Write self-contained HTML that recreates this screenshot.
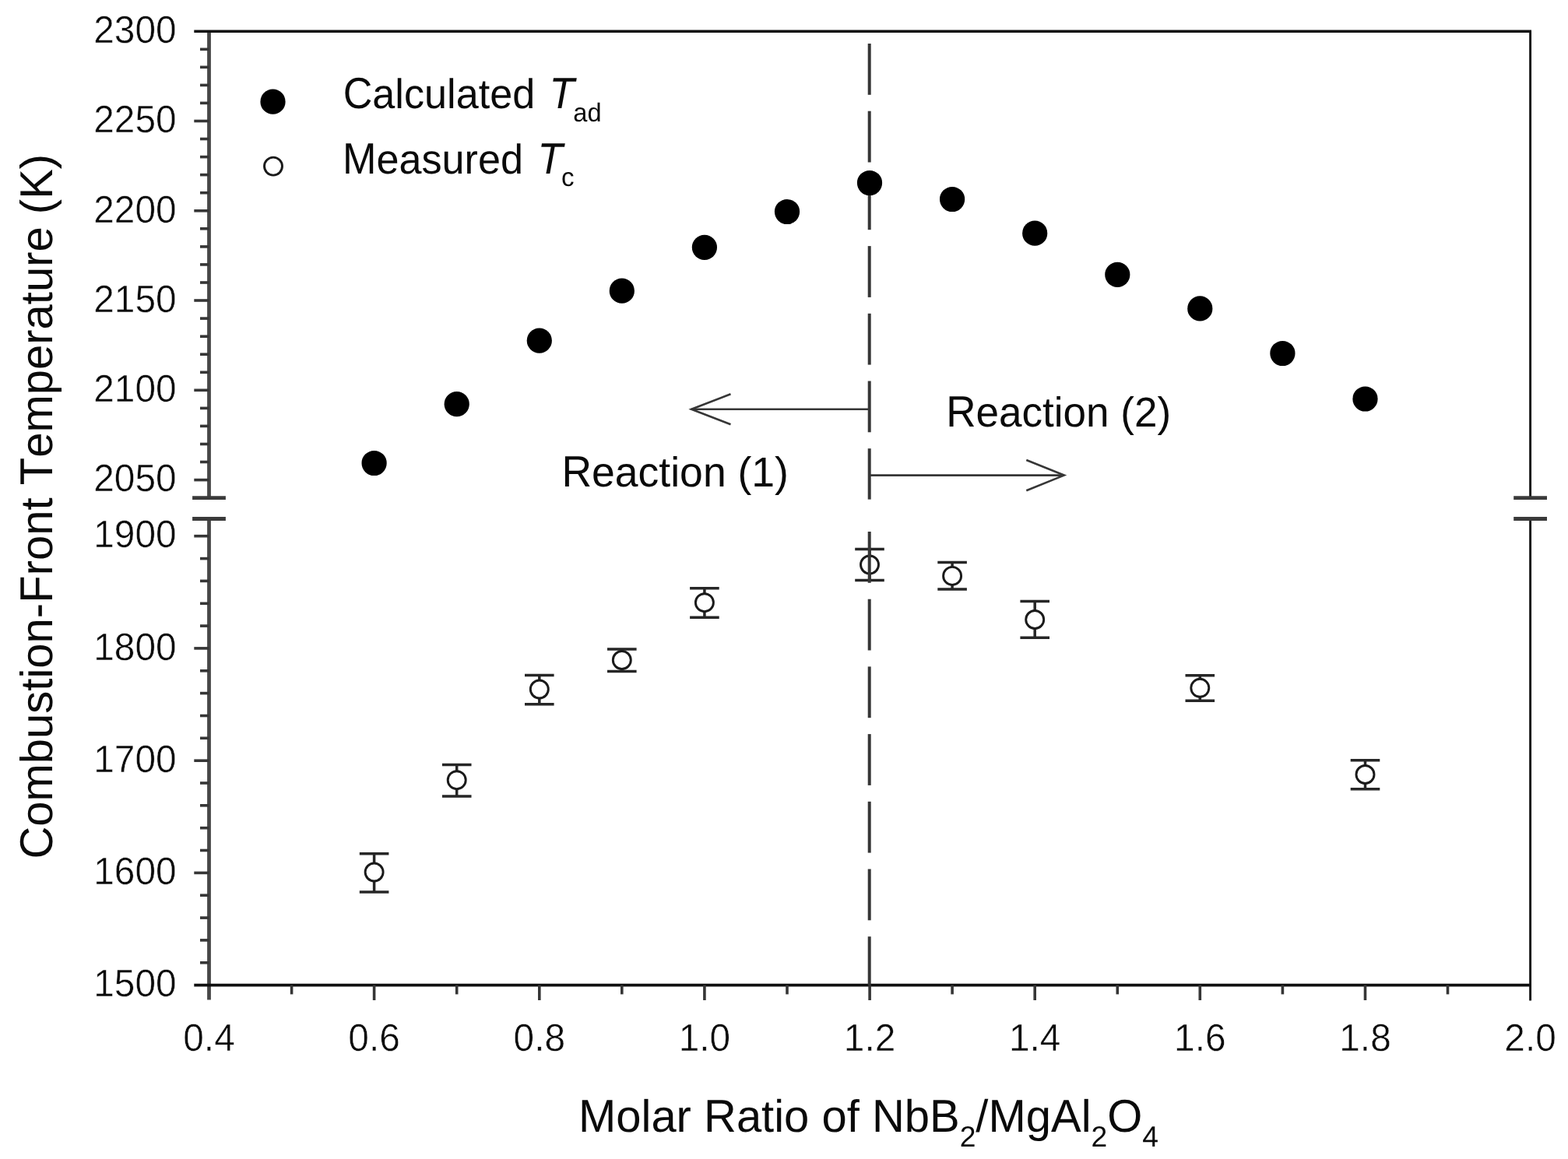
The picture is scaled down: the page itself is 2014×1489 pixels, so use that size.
<!DOCTYPE html>
<html lang="en">
<head>
<meta charset="utf-8">
<title>Combustion-Front Temperature vs Molar Ratio of NbB2/MgAl2O4</title>
<style>
html, body { margin: 0; padding: 0; background: #ffffff; }
body { width: 2014px; height: 1489px; overflow: hidden; }
svg { display: block; filter: blur(0.6px); }
</style>
</head>
<body>
<svg width="2014" height="1489" viewBox="0 0 2014 1489">
<rect width="2014" height="1489" fill="#fff"/>
<g stroke="#474747" stroke-width="4.8" fill="none">
<line x1="268.5" y1="40.2" x2="268.5" y2="639.6"/>
<line x1="268.5" y1="666.5" x2="268.5" y2="1284.6"/>
</g>
<g stroke="#101010" stroke-width="2.9" fill="none">
<line x1="1965.6" y1="40.2" x2="1965.6" y2="639.6"/>
<line x1="1965.6" y1="666.5" x2="1965.6" y2="1285.4"/>
</g>
<g stroke="#101010" stroke-width="3.6" fill="none" stroke-linecap="butt">
<line x1="249.3" y1="40.2" x2="1967.0" y2="40.2"/>
<line x1="249.3" y1="1265.6" x2="1967.0" y2="1265.6"/>
</g>
<g stroke="#3a3a3a" stroke-width="4.8" fill="none">
<line x1="247.1" y1="639.6" x2="289.9" y2="639.6"/>
<line x1="247.1" y1="666.5" x2="289.9" y2="666.5"/>
<line x1="1944.2" y1="639.6" x2="1987.0" y2="639.6"/>
<line x1="1944.2" y1="666.5" x2="1987.0" y2="666.5"/>
</g>
<g stroke="#363636" stroke-width="3.6" fill="none">
<line x1="257.0" y1="63.3" x2="268.5" y2="63.3"/>
<line x1="257.0" y1="86.3" x2="268.5" y2="86.3"/>
<line x1="257.0" y1="109.4" x2="268.5" y2="109.4"/>
<line x1="257.0" y1="132.4" x2="268.5" y2="132.4"/>
<line x1="249.3" y1="155.5" x2="268.5" y2="155.5"/>
<line x1="257.0" y1="178.5" x2="268.5" y2="178.5"/>
<line x1="257.0" y1="201.6" x2="268.5" y2="201.6"/>
<line x1="257.0" y1="224.6" x2="268.5" y2="224.6"/>
<line x1="257.0" y1="247.7" x2="268.5" y2="247.7"/>
<line x1="249.3" y1="270.8" x2="268.5" y2="270.8"/>
<line x1="257.0" y1="293.8" x2="268.5" y2="293.8"/>
<line x1="257.0" y1="316.9" x2="268.5" y2="316.9"/>
<line x1="257.0" y1="339.9" x2="268.5" y2="339.9"/>
<line x1="257.0" y1="363.0" x2="268.5" y2="363.0"/>
<line x1="249.3" y1="386.0" x2="268.5" y2="386.0"/>
<line x1="257.0" y1="409.1" x2="268.5" y2="409.1"/>
<line x1="257.0" y1="432.2" x2="268.5" y2="432.2"/>
<line x1="257.0" y1="455.2" x2="268.5" y2="455.2"/>
<line x1="257.0" y1="478.3" x2="268.5" y2="478.3"/>
<line x1="249.3" y1="501.3" x2="268.5" y2="501.3"/>
<line x1="257.0" y1="524.4" x2="268.5" y2="524.4"/>
<line x1="257.0" y1="547.4" x2="268.5" y2="547.4"/>
<line x1="257.0" y1="570.5" x2="268.5" y2="570.5"/>
<line x1="257.0" y1="593.5" x2="268.5" y2="593.5"/>
<line x1="249.3" y1="616.6" x2="268.5" y2="616.6"/>
<line x1="249.3" y1="688.7" x2="268.5" y2="688.7"/>
<line x1="257.0" y1="717.6" x2="268.5" y2="717.6"/>
<line x1="257.0" y1="746.4" x2="268.5" y2="746.4"/>
<line x1="257.0" y1="775.3" x2="268.5" y2="775.3"/>
<line x1="257.0" y1="804.1" x2="268.5" y2="804.1"/>
<line x1="249.3" y1="832.9" x2="268.5" y2="832.9"/>
<line x1="257.0" y1="861.8" x2="268.5" y2="861.8"/>
<line x1="257.0" y1="890.6" x2="268.5" y2="890.6"/>
<line x1="257.0" y1="919.5" x2="268.5" y2="919.5"/>
<line x1="257.0" y1="948.3" x2="268.5" y2="948.3"/>
<line x1="249.3" y1="977.2" x2="268.5" y2="977.2"/>
<line x1="257.0" y1="1006.0" x2="268.5" y2="1006.0"/>
<line x1="257.0" y1="1034.8" x2="268.5" y2="1034.8"/>
<line x1="257.0" y1="1063.7" x2="268.5" y2="1063.7"/>
<line x1="257.0" y1="1092.5" x2="268.5" y2="1092.5"/>
<line x1="249.3" y1="1121.4" x2="268.5" y2="1121.4"/>
<line x1="257.0" y1="1150.2" x2="268.5" y2="1150.2"/>
<line x1="257.0" y1="1179.1" x2="268.5" y2="1179.1"/>
<line x1="257.0" y1="1207.9" x2="268.5" y2="1207.9"/>
<line x1="257.0" y1="1236.8" x2="268.5" y2="1236.8"/>
<line x1="374.6" y1="1265.6" x2="374.6" y2="1277.4"/>
<line x1="480.6" y1="1265.6" x2="480.6" y2="1285.0"/>
<line x1="586.7" y1="1265.6" x2="586.7" y2="1277.4"/>
<line x1="692.8" y1="1265.6" x2="692.8" y2="1285.0"/>
<line x1="798.8" y1="1265.6" x2="798.8" y2="1277.4"/>
<line x1="904.9" y1="1265.6" x2="904.9" y2="1285.0"/>
<line x1="1011.0" y1="1265.6" x2="1011.0" y2="1277.4"/>
<line x1="1117.1" y1="1265.6" x2="1117.1" y2="1285.0"/>
<line x1="1223.1" y1="1265.6" x2="1223.1" y2="1277.4"/>
<line x1="1329.2" y1="1265.6" x2="1329.2" y2="1285.0"/>
<line x1="1435.3" y1="1265.6" x2="1435.3" y2="1277.4"/>
<line x1="1541.3" y1="1265.6" x2="1541.3" y2="1285.0"/>
<line x1="1647.4" y1="1265.6" x2="1647.4" y2="1277.4"/>
<line x1="1753.5" y1="1265.6" x2="1753.5" y2="1285.0"/>
<line x1="1859.5" y1="1265.6" x2="1859.5" y2="1277.4"/>
</g>
<g stroke="#363636" stroke-width="2.6" fill="none" stroke-linejoin="miter">
<line x1="888" y1="525.7" x2="1116.7" y2="525.7"/>
<polyline points="938.5,506.3 888,525.7 938.5,545.2"/>
<line x1="1116.7" y1="610.6" x2="1366.8" y2="610.6"/>
<polyline points="1318.3,591 1366.8,610.6 1318.3,630.2"/>
</g>
<g stroke="#262626" stroke-width="3.5" fill="none">
<line x1="480.6" y1="1096.7" x2="480.6" y2="1146.0"/>
<line x1="461.8" y1="1096.7" x2="499.4" y2="1096.7"/>
<line x1="461.8" y1="1146.0" x2="499.4" y2="1146.0"/>
<line x1="586.7" y1="982.6" x2="586.7" y2="1023.1"/>
<line x1="567.9" y1="982.6" x2="605.5" y2="982.6"/>
<line x1="567.9" y1="1023.1" x2="605.5" y2="1023.1"/>
<line x1="692.8" y1="867.5" x2="692.8" y2="904.8"/>
<line x1="674.0" y1="867.5" x2="711.6" y2="867.5"/>
<line x1="674.0" y1="904.8" x2="711.6" y2="904.8"/>
<line x1="798.8" y1="834" x2="798.8" y2="862.5"/>
<line x1="780.0" y1="834" x2="817.6" y2="834"/>
<line x1="780.0" y1="862.5" x2="817.6" y2="862.5"/>
<line x1="904.9" y1="755.7" x2="904.9" y2="793.2"/>
<line x1="886.1" y1="755.7" x2="923.7" y2="755.7"/>
<line x1="886.1" y1="793.2" x2="923.7" y2="793.2"/>
<line x1="1117.0" y1="705.4" x2="1117.0" y2="745.5"/>
<line x1="1098.2" y1="705.4" x2="1135.8" y2="705.4"/>
<line x1="1098.2" y1="745.5" x2="1135.8" y2="745.5"/>
<line x1="1223.1" y1="722.6" x2="1223.1" y2="757"/>
<line x1="1204.3" y1="722.6" x2="1241.9" y2="722.6"/>
<line x1="1204.3" y1="757" x2="1241.9" y2="757"/>
<line x1="1329.2" y1="772.6" x2="1329.2" y2="819.3"/>
<line x1="1310.4" y1="772.6" x2="1348.0" y2="772.6"/>
<line x1="1310.4" y1="819.3" x2="1348.0" y2="819.3"/>
<line x1="1541.3" y1="867.8" x2="1541.3" y2="900.3"/>
<line x1="1522.5" y1="867.8" x2="1560.1" y2="867.8"/>
<line x1="1522.5" y1="900.3" x2="1560.1" y2="900.3"/>
<line x1="1753.5" y1="976.7" x2="1753.5" y2="1013.8"/>
<line x1="1734.7" y1="976.7" x2="1772.3" y2="976.7"/>
<line x1="1734.7" y1="1013.8" x2="1772.3" y2="1013.8"/>
</g>
<g stroke="#1a1a1a" stroke-width="2.9" fill="#fff">
<circle cx="480.6" cy="1120.5" r="11.5"/>
<circle cx="586.7" cy="1002.2" r="11.5"/>
<circle cx="692.8" cy="885.5" r="11.5"/>
<circle cx="798.8" cy="848" r="11.5"/>
<circle cx="904.9" cy="774.2" r="11.5"/>
<circle cx="1117.0" cy="725.5" r="11.5"/>
<circle cx="1223.1" cy="739.9" r="11.5"/>
<circle cx="1329.2" cy="796" r="11.5"/>
<circle cx="1541.3" cy="883.8" r="11.5"/>
<circle cx="1753.5" cy="995" r="11.5"/>
<circle cx="351" cy="213.6" r="11.5"/>
</g>
<g stroke="#363636" stroke-width="4.0" fill="none">
<line x1="1116.7" y1="56.0" x2="1116.7" y2="121.8"/>
<line x1="1116.7" y1="142.7" x2="1116.7" y2="208.5"/>
<line x1="1116.7" y1="229.4" x2="1116.7" y2="295.2"/>
<line x1="1116.7" y1="316.1" x2="1116.7" y2="381.9"/>
<line x1="1116.7" y1="402.8" x2="1116.7" y2="468.6"/>
<line x1="1116.7" y1="489.5" x2="1116.7" y2="555.3"/>
<line x1="1116.7" y1="576.2" x2="1116.7" y2="641.6"/>
<line x1="1116.7" y1="683.0" x2="1116.7" y2="748.8"/>
<line x1="1116.7" y1="769.7" x2="1116.7" y2="835.5"/>
<line x1="1116.7" y1="856.4" x2="1116.7" y2="922.2"/>
<line x1="1116.7" y1="943.1" x2="1116.7" y2="1008.9"/>
<line x1="1116.7" y1="1029.8" x2="1116.7" y2="1095.6"/>
<line x1="1116.7" y1="1116.5" x2="1116.7" y2="1182.3"/>
<line x1="1116.7" y1="1203.2" x2="1116.7" y2="1265.6"/>
</g>
<g fill="#000">
<circle cx="480.6" cy="595" r="16.1"/>
<circle cx="586.7" cy="519.2" r="16.1"/>
<circle cx="692.8" cy="437.6" r="16.1"/>
<circle cx="798.8" cy="373.7" r="16.1"/>
<circle cx="904.9" cy="317.8" r="16.1"/>
<circle cx="1011.0" cy="272" r="16.1"/>
<circle cx="1117.0" cy="235" r="16.1"/>
<circle cx="1223.1" cy="256" r="16.1"/>
<circle cx="1329.2" cy="299.7" r="16.1"/>
<circle cx="1435.3" cy="352.8" r="16.1"/>
<circle cx="1541.3" cy="396.4" r="16.1"/>
<circle cx="1647.4" cy="454" r="16.1"/>
<circle cx="1753.5" cy="512.5" r="16.1"/>
<circle cx="350.5" cy="130.7" r="16.1"/>
</g>
<g font-family="'Liberation Sans', Arial, Helvetica, sans-serif" fill="#0a0a0a" style="font-kerning:none;font-variant-ligatures:none" text-rendering="geometricPrecision">
<g stroke="#fff" stroke-width="0.5" paint-order="fill stroke">
<text transform="translate(226.6 54.9) scale(0.968 1)" font-size="49.4" text-anchor="end">2300</text>
<text transform="translate(226.6 170.2) scale(0.968 1)" font-size="49.4" text-anchor="end">2250</text>
<text transform="translate(226.6 285.5) scale(0.968 1)" font-size="49.4" text-anchor="end">2200</text>
<text transform="translate(226.6 400.7) scale(0.968 1)" font-size="49.4" text-anchor="end">2150</text>
<text transform="translate(226.6 516.0) scale(0.968 1)" font-size="49.4" text-anchor="end">2100</text>
<text transform="translate(226.6 631.3) scale(0.968 1)" font-size="49.4" text-anchor="end">2050</text>
<text transform="translate(226.6 703.4) scale(0.968 1)" font-size="49.4" text-anchor="end">1900</text>
<text transform="translate(226.6 847.6) scale(0.968 1)" font-size="49.4" text-anchor="end">1800</text>
<text transform="translate(226.6 991.9) scale(0.968 1)" font-size="49.4" text-anchor="end">1700</text>
<text transform="translate(226.6 1136.1) scale(0.968 1)" font-size="49.4" text-anchor="end">1600</text>
<text transform="translate(226.6 1280.3) scale(0.968 1)" font-size="49.4" text-anchor="end">1500</text>
<text transform="translate(268.5 1349.8) scale(0.968 1)" font-size="49.4" text-anchor="middle">0.4</text>
<text transform="translate(480.6 1349.8) scale(0.968 1)" font-size="49.4" text-anchor="middle">0.6</text>
<text transform="translate(692.8 1349.8) scale(0.968 1)" font-size="49.4" text-anchor="middle">0.8</text>
<text transform="translate(904.9 1349.8) scale(0.968 1)" font-size="49.4" text-anchor="middle">1.0</text>
<text transform="translate(1117.1 1349.8) scale(0.968 1)" font-size="49.4" text-anchor="middle">1.2</text>
<text transform="translate(1329.2 1349.8) scale(0.968 1)" font-size="49.4" text-anchor="middle">1.4</text>
<text transform="translate(1541.3 1349.8) scale(0.968 1)" font-size="49.4" text-anchor="middle">1.6</text>
<text transform="translate(1753.5 1349.8) scale(0.968 1)" font-size="49.4" text-anchor="middle">1.8</text>
<text transform="translate(1965.6 1349.8) scale(0.968 1)" font-size="49.4" text-anchor="middle">2.0</text>
</g>
<text transform="translate(743.0 1453.8) scale(0.996 1)" font-size="58.2" text-anchor="start"><tspan font-size="59.07" textLength="48.48" lengthAdjust="spacingAndGlyphs">M</tspan>olar <tspan font-size="59.07" textLength="42.03" lengthAdjust="spacingAndGlyphs">R</tspan>atio of <tspan font-size="59.07" textLength="42.03" lengthAdjust="spacingAndGlyphs">N</tspan>b<tspan font-size="59.07" textLength="38.82" lengthAdjust="spacingAndGlyphs">B</tspan><tspan font-size="37.4" dy="19.6">2</tspan><tspan dy="-19.6">/</tspan><tspan font-size="59.07" textLength="48.48" lengthAdjust="spacingAndGlyphs">M</tspan>g<tspan font-size="59.07" textLength="38.82" lengthAdjust="spacingAndGlyphs">A</tspan>l<tspan font-size="37.4" dy="19.6">2</tspan><tspan font-size="59.07" textLength="45.27" lengthAdjust="spacingAndGlyphs" dy="-19.6">O</tspan><tspan font-size="37.4" dy="19.6">4</tspan></text>
<text transform="translate(66.7 1103.6) rotate(-90)" font-size="58.0" text-anchor="start"><tspan font-size="59.16" textLength="41.89" lengthAdjust="spacingAndGlyphs">C</tspan>ombustion-<tspan font-size="59.16" textLength="35.43" lengthAdjust="spacingAndGlyphs">F</tspan>ront <tspan font-size="59.16" textLength="35.43" lengthAdjust="spacingAndGlyphs">T</tspan>emperature (<tspan font-size="59.16" textLength="38.69" lengthAdjust="spacingAndGlyphs">K</tspan>)</text>
<text transform="translate(440.7 139.2) scale(0.975 1)" font-size="53.5" text-anchor="start"><tspan font-size="56.18" textLength="38.64" lengthAdjust="spacingAndGlyphs">C</tspan>alculated</text>
<text transform="translate(705.4 139.2) scale(0.9380952380952381 1)" font-size="56.175000000000004" text-anchor="start" font-style="italic">T</text>
<text transform="translate(736.3 156.0) scale(0.97 1)" font-size="33.6" text-anchor="start">ad</text>
<text transform="translate(440.0 222.6) scale(0.975 1)" font-size="53.5" text-anchor="start"><tspan font-size="56.18" textLength="44.57" lengthAdjust="spacingAndGlyphs">M</tspan>easured</text>
<text transform="translate(690.4 222.6) scale(0.9380952380952381 1)" font-size="56.175000000000004" text-anchor="start" font-style="italic">T</text>
<text transform="translate(721.0 239.4) scale(0.985 1)" font-size="33.6" text-anchor="start">c</text>
<text transform="translate(721.4 625.1) scale(0.997 1)" font-size="53.7" text-anchor="start"><tspan font-size="56.39" textLength="38.78" lengthAdjust="spacingAndGlyphs">R</tspan>eaction (1)</text>
<text transform="translate(1215.2 547.8) scale(0.988 1)" font-size="53.7" text-anchor="start"><tspan font-size="56.39" textLength="38.78" lengthAdjust="spacingAndGlyphs">R</tspan>eaction (2)</text>
</g>
</svg>
</body>
</html>
